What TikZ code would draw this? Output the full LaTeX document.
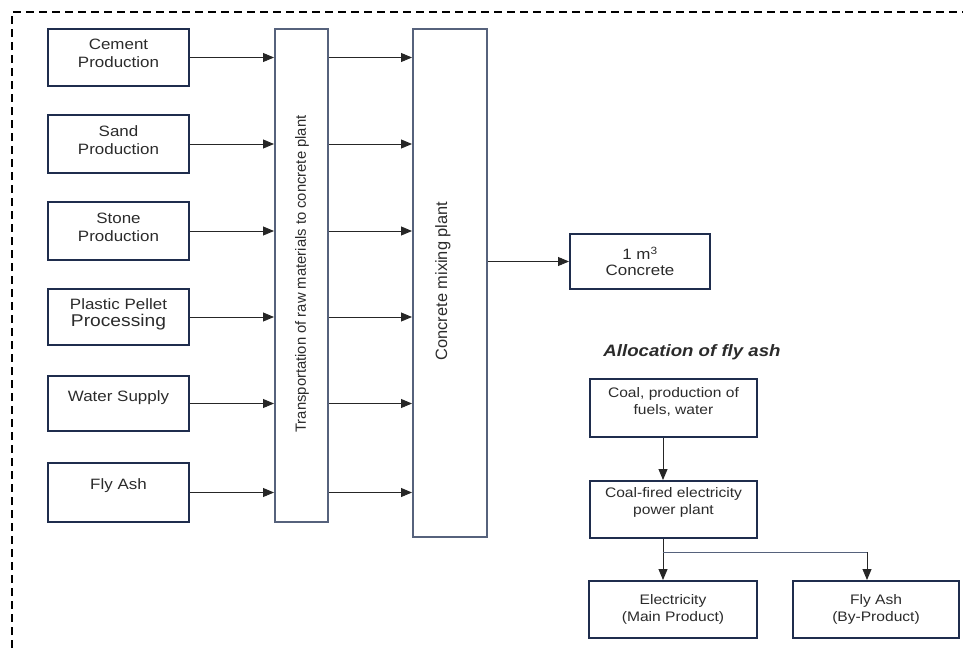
\documentclass[tikz,border=0pt]{standalone}
\usepackage{fontspec}
\setmainfont{Liberation Sans}[FakeStretch=1.13]
\newfontfamily\rotfont{Liberation Sans}
\usetikzlibrary{arrows.meta}
\definecolor{navy}{HTML}{1F2D4D}
\definecolor{slate}{HTML}{56627C}
\definecolor{ink}{HTML}{2B2B2B}
\tikzset{
  x=1pt, y=-1pt,
  srcbox/.style={draw=navy, line width=2pt, minimum width=141pt, minimum height=57pt, inner sep=0pt},
  tallbox/.style={draw=slate, line width=2pt, inner sep=0pt},
  allocbox/.style={draw=navy, line width=2pt, minimum width=167pt, minimum height=57pt, inner sep=0pt,
    text=ink, align=center, font=\fontsize{13.8}{17}\selectfont},
  srctext/.style={text=ink, align=center, inner sep=0pt, font=\fontsize{15}{17.5}\selectfont},
  rottext/.style={text=ink, rotate=90, inner sep=0pt},
  arr/.style={draw=black!85, line width=0.9pt, -{Triangle[length=11pt,width=9pt]}},
  frame/.style={draw=black, line width=2.2pt, dash pattern=on 8pt off 5pt}
}
\begin{document}
\begin{tikzpicture}
\useasboundingbox (0,0) rectangle (963,648);

% open dashed frame along the top and left
\coordinate (fbl) at (12,648);
\coordinate (ftl) at (12,12);
\coordinate (ftr) at (963,12);
\draw[frame] (fbl) -- (ftl) -- (ftr);

% raw material sources
\node[srcbox] (cem) at (118.5,57.5) {};
\node[srctext] (cemT) at ([yshift=4pt]cem.center) {Cement\\Production};
\node[srcbox, minimum height=58pt] (sand) at (118.5,144) {};
\node[srctext] (sandT) at ([yshift=4pt]sand.center) {Sand\\Production};
\node[srcbox, minimum height=58pt] (stone) at (118.5,231) {};
\node[srctext] (stoneT) at ([yshift=3.5pt]stone.center) {Stone\\Production};
\node[srcbox, minimum height=56pt] (plast) at (118.5,317) {};
\node[srctext] (plastT) at ([yshift=2.5pt]plast.center) {Plastic Pellet\\{\fontsize{17}{18}\selectfont Processing}};
\node[srcbox, minimum height=55pt] (water) at (118.5,403.5) {};
\node[srctext] (waterT) at ([yshift=6pt]water.center) {Water Supply};
\node[srcbox, minimum height=59pt] (fly) at (118.5,492.5) {};
\node[srctext] (flyT) at ([yshift=7pt]fly.center) {Fly Ash};

% transport and mixing stages
\node[tallbox, minimum width=53pt, minimum height=493pt] (trans) at (301.5,275.5) {};
\node[rottext, font=\rotfont\fontsize{14.8}{17}\selectfont] (transT) at (302,274) {Transportation of raw materials to concrete plant};
\node[tallbox, minimum width=74pt, minimum height=508pt] (mix) at (450,283) {};
\node[rottext, font=\rotfont\fontsize{16.4}{18}\selectfont] (mixT) at (443,281) {Concrete mixing plant};

% product
\node[srcbox, minimum width=140pt, minimum height=55pt, text=ink, align=center,
      font=\fontsize{15}{16}\selectfont] (conc) at (640,261.5) {1 m\textsuperscript{3}\\Concrete};

% sources into transport, transport into mixing
\foreach \s in {cem,sand,stone,plast,water,fly}{
  \draw[arr] (\s.east) -- (trans.west |- \s.east);
  \draw[arr] (trans.east |- \s.east) -- (mix.west |- \s.east);
}
\draw[arr] (mix.east |- conc.west) -- (conc.west);

% fly ash allocation
\node[text=ink, font=\fontsize{16.5}{18}\selectfont\bfseries\itshape] (allocT) at (692,352) {Allocation of fly ash};
\node[allocbox, minimum height=58pt] (coal) at (673.5,408) {};
\node[text=ink, align=center, inner sep=0pt, font=\fontsize{13.8}{17}\selectfont] (coalT) at ([yshift=6pt]coal.center) {Coal, production of\\fuels, water};
\node[allocbox] (cfp) at (673.5,509.5) {};
\node[text=ink, align=center, inner sep=0pt, font=\fontsize{13.8}{17}\selectfont] (cfpT) at ([yshift=7pt]cfp.center) {Coal-fired electricity\\power plant};
\node[allocbox, minimum width=168pt] (elec) at (673,609.5) {Electricity\\(Main Product)};
\node[allocbox, minimum width=166pt] (fash) at (876,609.5) {Fly Ash\\(By-Product)};

\draw[arr] ([xshift=-10.5pt]coal.south) -- ([xshift=-10.5pt]cfp.north);
\draw[arr] ([xshift=-10.5pt]cfp.south) -- ([xshift=-10pt]elec.north);
\coordinate (split) at (663,552);
\coordinate (turn) at (867,552);
\draw[draw=slate, line width=0.7pt] (split) -- (turn);
\draw[arr] (turn) -- (turn |- fash.north);
\end{tikzpicture}
\end{document}
